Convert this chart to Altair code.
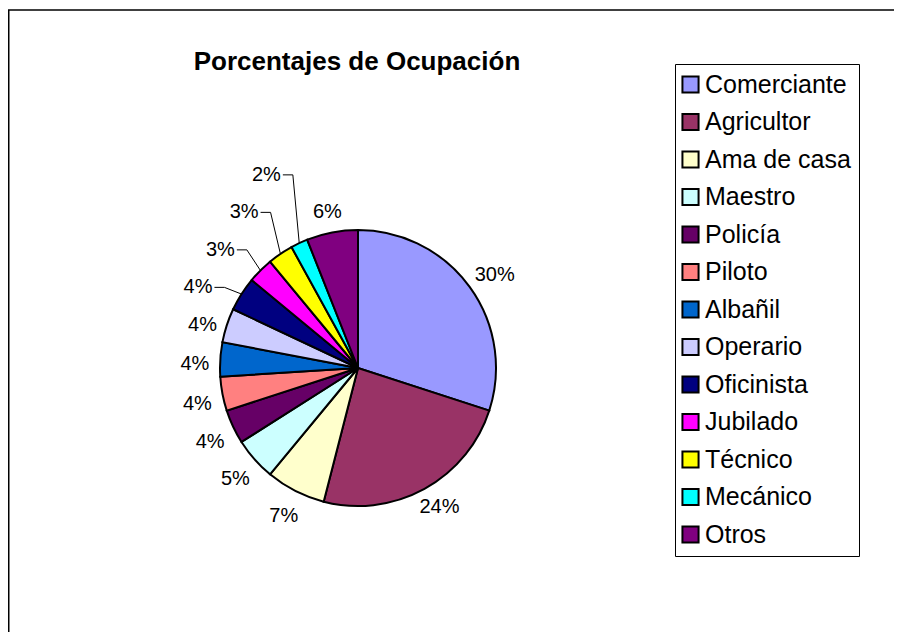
import math
import altair as alt
import pandas as pd

# ---------------- data ----------------
categories = ["Comerciante", "Agricultor", "Ama de casa", "Maestro", "Policía",
              "Piloto", "Albañil", "Operario", "Oficinista", "Jubilado",
              "Técnico", "Mecánico", "Otros"]
values = [30, 24, 7, 5, 4, 4, 4, 4, 4, 3, 3, 2, 6]
colors = ["#9999FF", "#993366", "#FFFFCC", "#CCFFFF", "#660066", "#FF8080",
          "#0066CC", "#CCCCFF", "#000080", "#FF00FF", "#FFFF00", "#00FFFF",
          "#800080"]
title_text = "Porcentajes de Ocupación"

# ---------------- layout / style ----------------
W, H = 886, 624            # drawing area (page minus 8px margins)
CX, CY, R = 350, 360, 138  # pie centre and radius
FONT = "Liberation Sans"
LABEL_FS = 20
GAP = 11
LEFT_DY = 6                # Excel places left-side label boxes a bit lower
dragged = ["Oficinista", "Jubilado", "Técnico", "Mecánico"]  # labels moved out with leaders
STACK_DY = 37.5
DRAG_DX = -22


def text_w(s, fs):
    w = 0
    for ch in s:
        w += 0.889 if ch == "%" else 0.556
    return w * fs


total = sum(values)
rows = []
cum = 0
prev_y = None
lead = []
for i, (c, v) in enumerate(zip(categories, values)):
    mid = 2 * math.pi * (cum + v / 2) / total
    cum += v
    s, co = math.sin(mid), math.cos(mid)
    lab = f"{round(v / total * 100)}%"
    w = text_w(lab, LABEL_FS)
    lx = CX + (R + GAP) * s + (w / 2) * s
    ly = CY - (R + GAP) * co - (LABEL_FS / 2) * co
    if s < -0.3:
        ly += LEFT_DY
    if c in dragged and prev_y is not None:
        ly = prev_y - STACK_DY
        lx += DRAG_DX
        p1x = lx + w / 2 + 2
        lead += [
            {"cat": c, "k": 0, "x": p1x, "y": ly},
            {"cat": c, "k": 1, "x": p1x + 10, "y": ly},
            {"cat": c, "k": 2, "x": CX + R * s, "y": CY - R * co},
        ]
    prev_y = ly
    rows.append({"cat": c, "value": v, "idx": i, "label": lab, "lx": lx, "ly": ly})

df = pd.DataFrame(rows)
lead_df = pd.DataFrame(lead)
one = pd.DataFrame({"t": [title_text]})

xs = alt.Scale(domain=[0, W], range=[0, W], nice=False, zero=False)
ys = alt.Scale(domain=[0, H], range=[0, H], nice=False, zero=False)

pie = alt.Chart(df).mark_arc(outerRadius=R, stroke="black", strokeWidth=2).encode(
    theta=alt.Theta("value:Q", stack=True),
    order=alt.Order("idx:Q", sort="ascending"),
    color=alt.Color(
        "cat:N",
        scale=alt.Scale(domain=categories, range=colors),
        legend=alt.Legend(
            title=None, orient="none", legendX=667, legendY=56,
            symbolType="square", symbolSize=260, symbolStrokeColor="black",
            symbolStrokeWidth=2, symbolOffset=-5, labelFontSize=25, labelFont=FONT,
            labelColor="black", labelOffset=2, rowPadding=11.5, padding=8,
            strokeColor="black", fillColor="white", cornerRadius=0,
            labelLimit=400,
        ),
    ),
    x=alt.value(CX),
    y=alt.value(CY),
)

labels = alt.Chart(df).mark_text(fontSize=LABEL_FS, font=FONT, color="black",
                                 baseline="middle", align="center").encode(
    x=alt.X("lx:Q", scale=xs, axis=None),
    y=alt.Y("ly:Q", scale=ys, axis=None),
    text="label:N",
)

leaders = alt.Chart(lead_df).mark_line(color="black", strokeWidth=1).encode(
    x=alt.X("x:Q", scale=xs, axis=None),
    y=alt.Y("y:Q", scale=ys, axis=None),
    detail="cat:N",
    order="k:Q",
)

title = alt.Chart(one).mark_text(fontSize=26, fontWeight="bold",
                                 font=FONT, align="center", baseline="alphabetic",
                                 color="black").encode(
    text="t:N", x=alt.value(349), y=alt.value(62)
)

frame_top = alt.Chart(one).mark_rule(color="black", strokeWidth=1.5).encode(
    x=alt.value(0), x2=alt.value(W), y=alt.value(2)
)
frame_left = alt.Chart(one).mark_rule(color="black", strokeWidth=1.5).encode(
    x=alt.value(0.75), y=alt.value(2), y2=alt.value(H)
)

chart = alt.layer(frame_top, frame_left, pie, leaders, labels, title).properties(
    width=W, height=H, padding=0, autosize=alt.AutoSizeParams(type="none"),
    background="white",
).configure_view(stroke=None)

chart.save("out.html", embed_options={"renderer": "svg", "actions": False})
